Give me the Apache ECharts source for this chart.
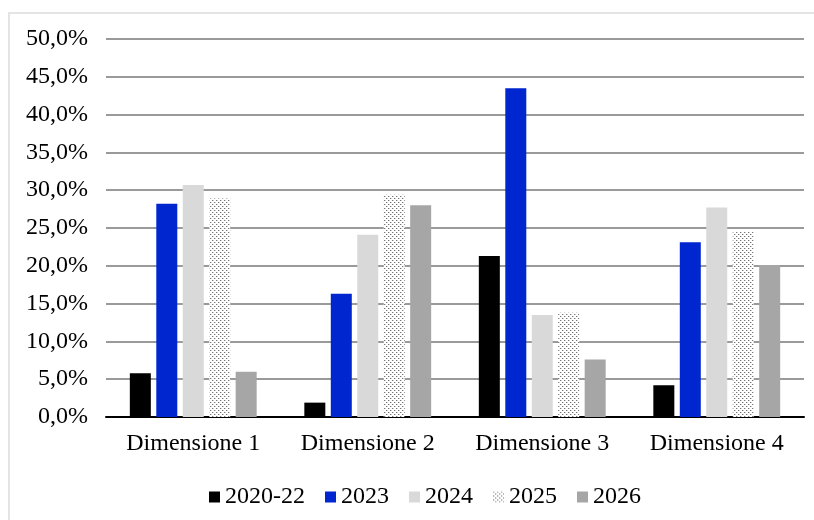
<!DOCTYPE html>
<html>
<head>
<meta charset="utf-8">
<script src="https://cdn.jsdelivr.net/npm/echarts@6/dist/echarts.min.js"></script>
<style>
  html, body { margin: 0; padding: 0; background: #fff; }
  #main { width: 814px; height: 520px; }
</style>
</head>
<body>
<div id="main"></div>
<script>
// categorie e valori (percentuali)
var categories = ['Dimensione 1', 'Dimensione 2', 'Dimensione 3', 'Dimensione 4'];
var seriesNames = ['2020-22', '2023', '2024', '2025', '2026'];
var val2020_22 = [5.8, 1.9, 21.3, 4.2];
var val2023 = [28.2, 16.3, 43.5, 23.1];
var val2024 = [30.7, 24.1, 13.5, 27.7];
var val2025 = [28.9, 29.4, 13.8, 24.6];
var val2026 = [6.0, 28.0, 7.6, 20.1];

// trama puntinata per il 2025
function dotPattern() {
  var c = document.createElement('canvas');
  c.width = 4;
  c.height = 4;
  var ctx = c.getContext('2d');
  ctx.fillStyle = '#ffffff';
  ctx.fillRect(0, 0, 4, 4);
  ctx.fillStyle = '#767676';
  ctx.fillRect(0, 0, 1, 1);
  ctx.fillRect(2, 2, 1, 1);
  ctx.fillStyle = '#d0d0d0';
  ctx.fillRect(1, 0, 1, 1);
  ctx.fillRect(3, 2, 1, 1);
  return c;
}

var colors = ['#000000', '#0026D0', '#D9D9D9', { image: dotPattern(), repeat: 'repeat' }, '#A6A6A6'];
var allValues = [val2020_22, val2023, val2024, val2025, val2026];

var font = '"Liberation Serif", "Times New Roman", serif';

var chart = echarts.init(document.getElementById('main'));

var series = seriesNames.map(function (name, i) {
  return {
    name: name,
    type: 'bar',
    data: allValues[i],
    barWidth: 21,
    barGap: '26%',
    itemStyle: { color: colors[i] },
    emphasis: { disabled: true }
  };
});

var option = {
  animation: false,
  backgroundColor: '#ffffff',
  textStyle: { fontFamily: font },
  grid: {
    left: 106,
    right: 10,
    top: 39,
    bottom: 103,
    containLabel: false
  },
  legend: {
    left: 204,
    top: 480,
    itemWidth: 11,
    itemHeight: 11,
    itemGap: 20,
    icon: 'rect',
    data: seriesNames,
    textStyle: { fontFamily: font, fontSize: 24, color: '#000' }
  },
  xAxis: {
    type: 'category',
    data: categories,
    axisLine: { lineStyle: { color: '#000', width: 2 } },
    axisTick: { show: false },
    axisLabel: {
      fontFamily: font,
      fontSize: 24,
      color: '#000',
      margin: 15
    }
  },
  yAxis: {
    type: 'value',
    min: 0,
    max: 50,
    interval: 5,
    axisLine: { show: false },
    axisTick: { show: false },
    splitLine: { lineStyle: { color: '#9a9a9a', width: 2 } },
    axisLabel: {
      fontFamily: font,
      fontSize: 24,
      color: '#000',
      margin: 18,
      formatter: function (v) {
        return v.toFixed(1).replace('.', ',') + '%';
      }
    }
  },
  graphic: [{
    type: 'polyline',
    shape: { points: [[9, 520], [9, 13], [814, 13]] },
    style: { stroke: '#e4e4e4', lineWidth: 2, fill: null },
    silent: true
  }],
  series: series
};

chart.setOption(option);
</script>
</body>
</html>
